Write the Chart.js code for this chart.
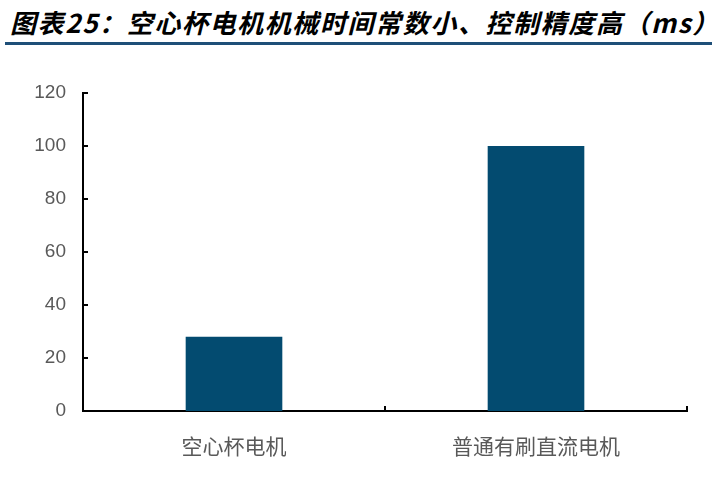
<!DOCTYPE html>
<html><head><meta charset="utf-8">
<script src="https://cdn.jsdelivr.net/npm/chart.js@4"></script>
<style>
html,body{margin:0;padding:0;background:#fff;width:712px;height:501px;overflow:hidden;}
#title{position:absolute;left:10px;top:3px;font-family:"Noto Sans CJK SC";font-weight:bold;font-style:italic;font-size:26px;color:#000;white-space:nowrap;letter-spacing:1.6px;}
#rule{position:absolute;left:5px;right:0;top:42px;height:3px;background:#1e4f78;}
#wrap{position:absolute;left:0;top:0;width:712px;height:501px;}
</style></head>
<body>
<div id="title">图表25：空心杯电机机械时间常数小、控制精度高（ms）</div>
<div id="rule"></div>
<div id="wrap"><canvas id="c"></canvas></div>
<script>
const categories = ["空心杯电机", "普通有刷直流电机"];
const values = [28, 100];
const yTicks = [0, 20, 40, 60, 80, 100, 120];

const innerTicks = {
  id: 'innerTicks',
  afterDraw(chart) {
    const ctx = chart.ctx, x = chart.scales.x, y = chart.scales.y;
    ctx.save();
    ctx.strokeStyle = '#000';
    ctx.lineWidth = 2;
    ctx.beginPath();
    yTicks.forEach(v => {
      const py = Math.round(y.getPixelForValue(v));
      ctx.moveTo(x.left, py); ctx.lineTo(x.left + 5, py);
    });
    for (let i = 0; i < categories.length; i++) {
      const px = Math.round(x.getPixelForValue(i) + (x.getPixelForValue(1) - x.getPixelForValue(0)) / 2);
      ctx.moveTo(px, y.bottom); ctx.lineTo(px, y.bottom - 5);
    }
    ctx.stroke();
    ctx.restore();
  }
};

new Chart(document.getElementById('c'), {
  type: 'bar',
  data: {
    labels: categories,
    datasets: [{ data: values, backgroundColor: '#034b70', borderWidth: 0, categoryPercentage: 1, barPercentage: 0.32 }]
  },
  options: {
    responsive: true, maintainAspectRatio: false, animation: false,
    layout: { padding: { top: 93, right: 25, left: 0, bottom: 0 } },
    plugins: { legend: { display: false }, tooltip: { enabled: false } },
    scales: {
      x: {
        grid: { display: false, drawTicks: false },
        border: { display: true, color: '#000', width: 2 },
        ticks: { color: '#595959', font: { family: 'Noto Sans CJK SC', size: 21 }, padding: 22 },
        afterFit(s) { s.height = 90; }
      },
      y: {
        min: 0, max: 120,
        afterBuildTicks(s) { s.ticks = yTicks.map(v => ({ value: v })); },
        grid: { display: false, drawTicks: false },
        border: { display: true, color: '#000', width: 2 },
        ticks: { color: '#595959', font: { family: 'Liberation Sans', size: 19 }, padding: 17 },
        afterFit(s) { s.width = 83; }
      }
    }
  },
  plugins: [innerTicks]
});
</script>
</body></html>
